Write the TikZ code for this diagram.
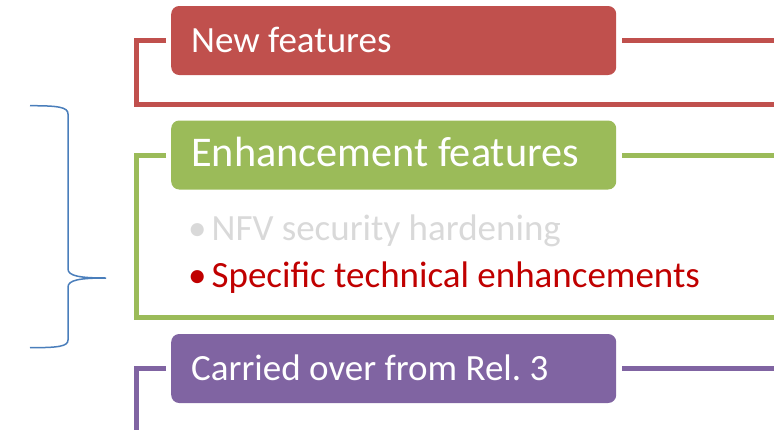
\documentclass[tikz,border=0pt]{standalone}
\usepackage{fontspec}
\setmainfont{Carlito}
\frenchspacing
\definecolor{newred}{HTML}{C0504D}
\definecolor{enhgreen}{HTML}{9BBB59}
\definecolor{carpurple}{HTML}{8064A2}
\definecolor{braceblue}{HTML}{4A7EBB}
\definecolor{softgray}{HTML}{D9D9D9}
\definecolor{darkred}{HTML}{C00000}
\tikzset{
  feat/.style={rounded corners=8pt, anchor=west, text=white, align=flush left,
    text width=405pt, inner xsep=20pt, minimum height=69pt,
    text height=23pt, text depth=0pt},
  frame/.style={line width=5pt},
  point/.style={anchor=base west, inner sep=0pt, font=\fontsize{37}{44}\selectfont}
}

\begin{document}
\begin{tikzpicture}[x=1pt, y=-1pt]
\useasboundingbox (0,0) rectangle (774,429);
\clip (0,0) rectangle (774,429);
\coordinate (rim) at (790,0);

% the three headings
\node [feat, fill=newred, font=\fontsize{37}{44}\selectfont] (newf) at (171,40.5) {New features};
\node [feat, fill=enhgreen, font=\fontsize{42.3}{48}\selectfont] (enhf) at (171,155) {Enhancement features};
\node [feat, fill=carpurple, font=\fontsize{37}{44}\selectfont] (carf) at (171,368.5) {Carried over from Rel. 3};

% frames
\draw [frame, newred] ([xshift=-5pt]newf.west) -| (136.5,104) -- (790,104);
\draw [frame, newred] ([xshift=6pt]newf.east) -- (newf.east -| rim);

\draw [frame, enhgreen] ([xshift=-5pt]enhf.west) -| (136.5,317.5) -- (790,317.5);
\draw [frame, enhgreen] ([xshift=6pt]enhf.east) -- (enhf.east -| rim);

\draw [frame, carpurple] ([xshift=-5pt]carf.west) -| (136.5,440);
\draw [frame, carpurple] ([xshift=6pt]carf.east) -- (carf.east -| rim);

% bullet points
\node [point, text=softgray] (nfv) at (188,240) {\textbullet\hspace{5pt}NFV security hardening};
\node [point, text=darkred] (spec) at (188,287) {\textbullet\hspace{5pt}Specific technical enhancements};

% brace
\draw [braceblue, line width=1.5pt]
  (30,105.7) .. controls (58,105.7) and (68,107) .. (68,114)
  -- (68,269) .. controls (68,276) and (80,278) .. (106,278)
  .. controls (80,278) and (68,280) .. (68,287)
  -- (68,340) .. controls (68,346.5) and (58,347.7) .. (30,347.7);
\end{tikzpicture}
\end{document}
